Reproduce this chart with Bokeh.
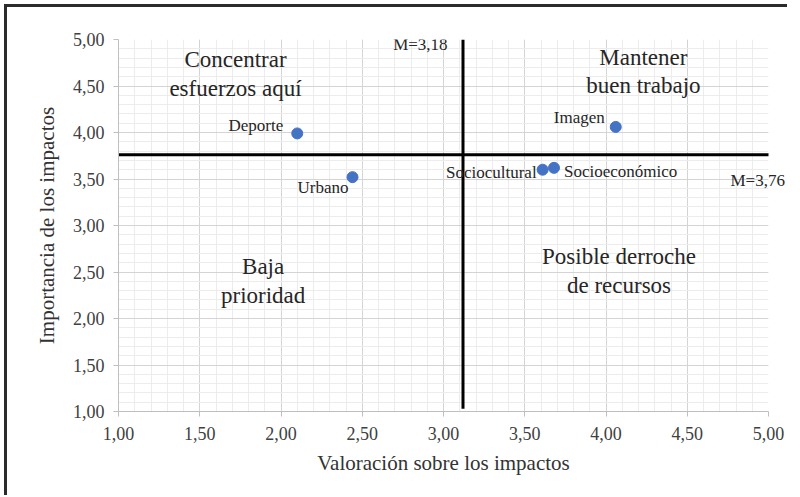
from bokeh.plotting import figure
from bokeh.models import FixedTicker, Range1d, Label, LinearAxis, InlineStyleSheet
from bokeh.embed import file_html
from bokeh.resources import INLINE

# data
names = ["Deporte", "Urbano", "Imagen", "Sociocultural", "Socioeconómico"]
valoracion = [2.10, 2.44, 4.06, 3.61, 3.68]
importancia = [3.99, 3.52, 4.06, 3.60, 3.62]
mean_x_drawn = 3.12
mean_y_drawn = 3.76
mean_x_label = "M=3,18"
mean_y_label = "M=3,76"
major_ticks = [1.0, 1.5, 2.0, 2.5, 3.0, 3.5, 4.0, 4.5, 5.0]
minor_ticks = [round(1 + 0.1 * i, 2) for i in range(41)]
quadrants = [
    ("Concentrar\nesfuerzos aquí", 1.72, 4.63),
    ("Mantener\nbuen trabajo", 4.23, 4.655),
    ("Baja\nprioridad", 1.89, 2.405),
    ("Posible derroche\nde recursos", 4.08, 2.51),
]

FONT = "Liberation Serif"

p = figure(frame_width=650, frame_height=372, output_backend="svg", toolbar_location=None,
           x_range=Range1d(1, 5), y_range=Range1d(1, 5),
           min_border_left=118, min_border_right=14, min_border_top=39, min_border_bottom=84)
p.outline_line_color = None
p.background_fill_color = "white"
p.border_fill_color = "white"

for ax in (p.xaxis[0], p.yaxis[0]):
    ax.ticker = FixedTicker(ticks=major_ticks, minor_ticks=minor_ticks)
    ax.major_label_overrides = {t: f"{t:.2f}".replace(".", ",") for t in major_ticks}
    ax.axis_line_color = "#bfbfbf"
    ax.major_tick_line_color = "#bfbfbf"
    ax.major_tick_out = 5
    ax.major_tick_in = 0
    ax.minor_tick_line_color = None
    ax.major_label_text_font = FONT
    ax.major_label_text_font_size = "18px"
    ax.major_label_text_color = "#404040"
    ax.axis_label_text_font = FONT
    ax.axis_label_text_font_size = "21px"
    ax.axis_label_text_font_style = "normal"
    ax.axis_label_text_color = "#333333"

p.xaxis.axis_label = "Valoración sobre los impactos"
p.yaxis.axis_label = "Importancia de los impactos"
p.xaxis.major_label_standoff = 10
p.yaxis.major_label_standoff = 9
p.xaxis.axis_label_standoff = 8
p.yaxis.axis_label_standoff = 11

for g in (p.xgrid[0], p.ygrid[0]):
    g.ticker = FixedTicker(ticks=major_ticks, minor_ticks=minor_ticks)
    g.grid_line_color = "#d4d4d4"
    g.minor_grid_line_color = "#ececec"

# mean lines
p.line([1.0, 5.02], [mean_y_drawn, mean_y_drawn], line_color="black", line_width=3)
p.line([mean_x_drawn, mean_x_drawn], [1.03, 5.0], line_color="black", line_width=3)

# points
p.scatter(valoracion, importancia, size=11, color="#4472c4")

# point labels
offsets = {
    "Deporte": (-14, 8, "right"),
    "Urbano": (-4, -10, "right"),
    "Imagen": (-11, 9, "right"),
    "Sociocultural": (-6, -3, "right"),
    "Socioeconómico": (10, -4, "left"),
}
for n, xv, yv in zip(names, valoracion, importancia):
    dx, dy, al = offsets[n]
    p.add_layout(Label(x=xv, y=yv, text=n, x_offset=dx, y_offset=dy, text_align=al,
                       text_baseline="middle", text_font=FONT, text_font_size="17px",
                       text_color="#262626"))

# quadrant labels
for t, xv, yv in quadrants:
    p.add_layout(Label(x=xv, y=yv, text=t, text_align="center", text_baseline="middle",
                       text_font=FONT, text_font_size="23px", text_color="#262626",
                       text_line_height=1.15))

p.add_layout(Label(x=2.69, y=4.95, text=mean_x_label, text_align="left", text_baseline="middle",
                   text_font=FONT, text_font_size="17px", text_color="#262626"))

# mean label on the right, partly outside the plot area (drawn as a right axis label)
rax = LinearAxis(ticker=FixedTicker(ticks=[3.48]),
                 major_label_overrides={3.48: mean_y_label},
                 axis_line_color=None, major_tick_line_color=None, minor_tick_line_color=None,
                 major_tick_out=0, major_tick_in=0, major_label_standoff=-38,
                 major_label_text_font=FONT, major_label_text_font_size="17px",
                 major_label_text_color="#262626")
p.add_layout(rax, "right")

# outer frame: only top and left edges are in view
p.stylesheets = [InlineStyleSheet(css="""
:host { position: relative; }
:host::after { content: ""; position: absolute; left: 4px; top: 4px; right: 0; bottom: 0;
  border-left: 3px solid #2b2b2b; border-top: 3px solid #2b2b2b; pointer-events: none; z-index: 10; }
""")]

open("out.html", "w").write(file_html(p, INLINE))
